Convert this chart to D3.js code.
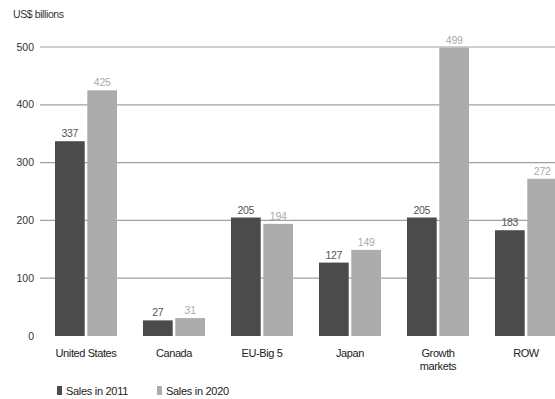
<!DOCTYPE html>
<html><head><meta charset="utf-8">
<script src="https://cdn.jsdelivr.net/npm/d3@7"></script>
<style>body{margin:0;background:#fff}svg{display:block}text{font-family:"Liberation Sans",Arial,sans-serif}</style>
</head><body>
<svg id="chart" width="555" height="399"></svg>
<script>
const categories = ["United States", "Canada", "EU-Big 5", "Japan", "Growth markets", "ROW"];
const categoryLines = [["United States"], ["Canada"], ["EU-Big 5"], ["Japan"], ["Growth", "markets"], ["ROW"]];
const series = ["Sales in 2011", "Sales in 2020"];
const sales2011 = [337, 27, 205, 127, 205, 183];
const sales2020 = [425, 31, 194, 149, 499, 272];
const yTicks = [0, 100, 200, 300, 400, 500];
const colors = ["#4b4b4b", "#acacac"];
const labelColors = ["#555", "#aaa"];

const svg = d3.select("#chart");
const x = d3.scaleBand().domain(categories).range([42, 570]).paddingInner(0.295).paddingOuter(0.1475);
const xs = d3.scaleBand().domain(series).range([0, x.bandwidth()]).paddingInner(0.08);
const y = d3.scaleLinear().domain([0, 500]).range([336, 47]);

svg.append("text").attr("x", 13).attr("y", 18).attr("font-size", 10.5).attr("fill", "#333")
  .attr("letter-spacing", -0.4).text("US$ billions");

// gridlines
svg.append("g").selectAll("line").data(yTicks.filter(d => d > 0)).join("line")
  .attr("x1", 40).attr("x2", 555).attr("y1", d => y(d)).attr("y2", d => y(d))
  .attr("stroke", "#a0a0a0").attr("stroke-width", 1.2);

// y tick labels
svg.append("g").selectAll("text").data(yTicks).join("text")
  .attr("x", 34).attr("y", d => y(d)).attr("dy", "0.35em").attr("text-anchor", "end")
  .attr("font-size", 10.5).attr("fill", "#333").text(d => d);

const data = categories.map((c, i) => ({c, vals: [sales2011[i], sales2020[i]]}));
const groups = svg.append("g").selectAll("g").data(data).join("g")
  .attr("transform", d => `translate(${x(d.c)},0)`);

groups.selectAll("rect").data(d => d.vals.map((v, j) => ({v, j}))).join("rect")
  .attr("x", d => xs(series[d.j])).attr("width", xs.bandwidth())
  .attr("y", d => y(d.v)).attr("height", d => y(0) - y(d.v))
  .attr("fill", d => colors[d.j]);

groups.selectAll("text.val").data(d => d.vals.map((v, j) => ({v, j}))).join("text")
  .attr("class", "val")
  .attr("x", d => xs(series[d.j]) + xs.bandwidth() / 2).attr("y", d => y(d.v) - 4)
  .attr("text-anchor", "middle").attr("font-size", 10.5).attr("letter-spacing", -0.3)
  .attr("fill", d => labelColors[d.j]).text(d => d.v);

// category labels
const cat = svg.append("g").selectAll("text").data(categories).join("text")
  .attr("x", d => x(d) + x.bandwidth() / 2).attr("y", 357)
  .attr("text-anchor", "middle").attr("font-size", 11).attr("fill", "#222").attr("letter-spacing", -0.4);
cat.each(function(d, i) {
  d3.select(this).selectAll("tspan").data(categoryLines[i]).join("tspan")
    .attr("x", x(d) + x.bandwidth() / 2).attr("dy", (t, k) => k === 0 ? 0 : 13).text(t => t);
});

// legend
const legendX = [57, 157];
const lg = svg.append("g").selectAll("g").data(series).join("g")
  .attr("transform", (d, i) => `translate(${legendX[i]},386)`);
lg.append("rect").attr("width", 5).attr("height", 9).attr("fill", (d, i) => colors[i]);
lg.append("text").attr("x", 9).attr("y", 8.5).attr("font-size", 11).attr("fill", "#222")
  .attr("letter-spacing", -0.3).text(d => d);
</script>
</body></html>
